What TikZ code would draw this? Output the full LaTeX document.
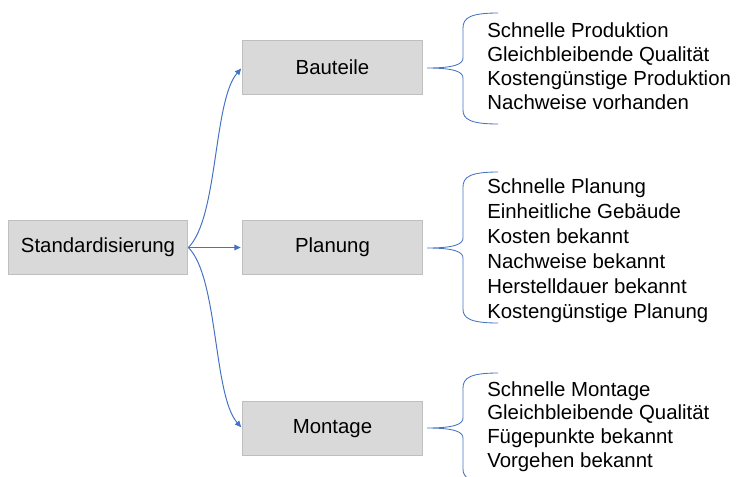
\documentclass[tikz,border=0pt]{standalone}
\usepackage{fontspec}
\setmainfont{Liberation Sans}
\usetikzlibrary{arrows.meta,calc,positioning}
\definecolor{boxgray}{HTML}{D9D9D9}
\definecolor{boxline}{HTML}{BFBFBF}
\definecolor{linkblue}{HTML}{4472C4}

\begin{document}
\begin{tikzpicture}[
  x=0.025cm, y=-0.025cm,
  >={Triangle[length=4.5pt,width=4pt]},
  catbox/.style={draw=boxline, fill=boxgray, line width=0.8pt, inner sep=0pt,
                 minimum width=4.49cm, minimum height=1.35cm,
                 font=\fontsize{14.5}{17}\selectfont},
  itemlist/.style={anchor=north west, align=left, inner sep=0pt,
                   font=\fontsize{14.5}{17}\selectfont},
  flow/.style={->, draw=linkblue, line width=0.7pt, shorten >=1pt},
  bracket/.style={draw=linkblue, line width=0.6pt}
]
  \useasboundingbox (0,0) rectangle (737,476);
  \clip (0,0) rectangle (737,476);

  \node[catbox] (std) at (98,247.5) {Standardisierung};
  \node[catbox] (bauteile) at (332.5,67.5) {Bauteile};
  \node[catbox] (planung) at (332.5,247.5) {Planung};
  \node[catbox] (montage) at (332.5,428.3) {Montage};

  \node[itemlist] (bauteilelist) at (487,22.5)
    {Schnelle Produktion\\Gleichbleibende Qualität\\
     Kostengünstige Produktion\\Nachweise vorhanden};
  \node[itemlist, font=\fontsize{14.5}{17.8}\selectfont] (planunglist) at (487,178)
    {Schnelle Planung\\Einheitliche Gebäude\\Kosten bekannt\\
     Nachweise bekannt\\Herstelldauer bekannt\\Kostengünstige Planung};
  \node[itemlist] (montagelist) at (487,381)
    {Schnelle Montage\\Gleichbleibende Qualität\\
     Fügepunkte bekannt\\Vorgehen bekannt};

  \draw[flow] (std.east) .. controls +(30,-30) and +(-29,33) .. (bauteile.west);
  \draw[flow] (std.east) -- (planung.west);
  \draw[flow] (std.east) .. controls +(30,30) and +(-29,-33) .. (montage.west);

  \draw[bracket] (498,13) .. controls (470,13) and (463,18) .. (463,28)
    -- (463,58) .. controls (463,64) and (455,68) .. (427,68)
    .. controls (455,68) and (463,72) .. (463,78)
    -- (463,110) .. controls (463,119) and (470,124) .. (498,124);
  \draw[bracket] (498,172) .. controls (470,172) and (463,177) .. (463,187)
    -- (463,238) .. controls (463,244) and (455,248) .. (427,248)
    .. controls (455,248) and (463,252) .. (463,258)
    -- (463,309) .. controls (463,318) and (470,323) .. (498,323);
  \draw[bracket] (498,373) .. controls (470,373) and (463,378) .. (463,388)
    -- (463,418) .. controls (463,424) and (455,428) .. (427,428)
    .. controls (455,428) and (463,432) .. (463,438)
    -- (463,469) .. controls (463,478) and (470,483) .. (498,483);
\end{tikzpicture}
\end{document}
